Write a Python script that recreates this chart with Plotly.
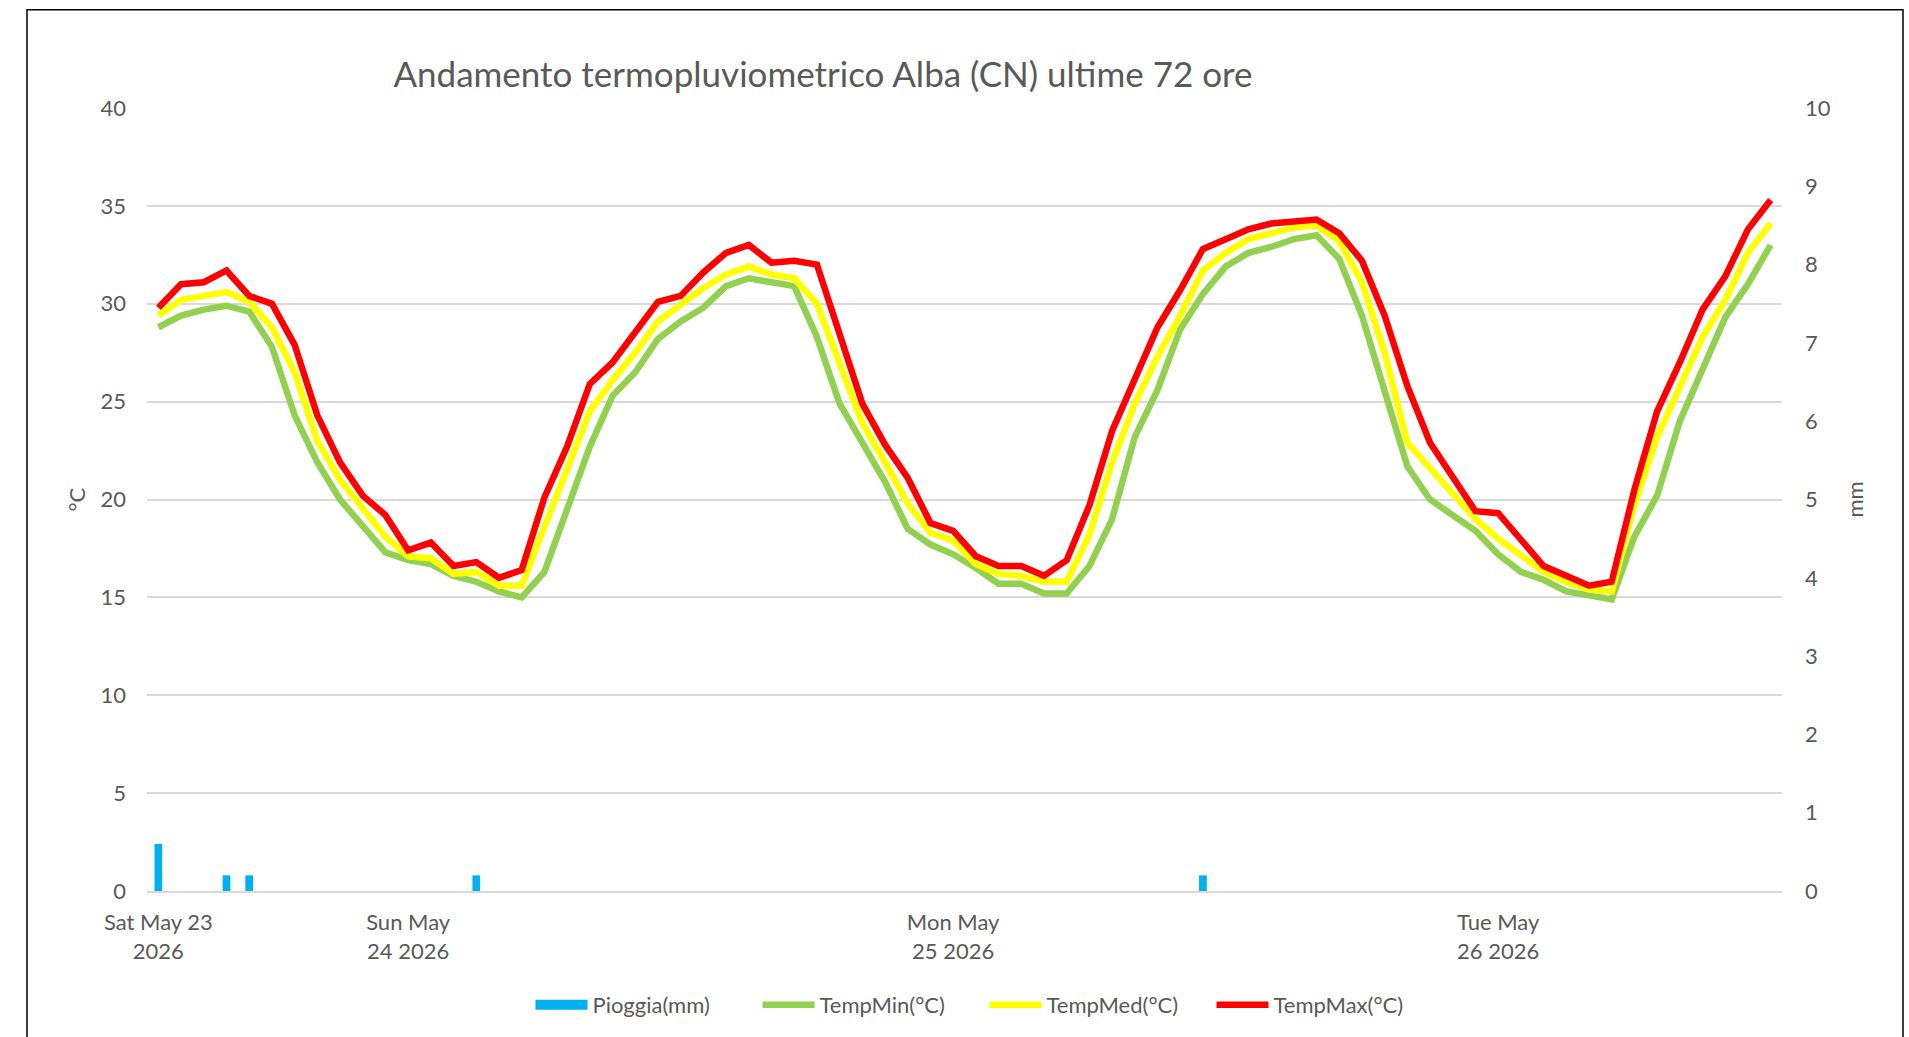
import plotly.graph_objects as go
import pandas as pd

# ---- data ----
hours = pd.date_range("2026-05-23 13:00", periods=72, freq="h").strftime("%Y-%m-%d %H:%M").tolist()

rain_mm = [0.6, 0, 0, 0.2, 0.2, 0, 0, 0, 0, 0, 0, 0,
           0, 0, 0.2, 0, 0, 0, 0, 0, 0, 0, 0, 0,
           0, 0, 0, 0, 0, 0, 0, 0, 0, 0, 0, 0,
           0, 0, 0, 0, 0, 0, 0, 0, 0, 0, 0.2, 0,
           0, 0, 0, 0, 0, 0, 0, 0, 0, 0, 0, 0,
           0, 0, 0, 0, 0, 0, 0, 0, 0, 0, 0, 0]

temp_min = [28.8, 29.4, 29.7, 29.9, 29.6, 27.8, 24.3, 21.9, 20.0, 18.6, 17.3, 16.9,
            16.7, 16.1, 15.8, 15.3, 15.0, 16.3, 19.5, 22.7, 25.3, 26.5, 28.2, 29.1,
            29.8, 30.9, 31.3, 31.1, 30.9, 28.3, 24.9, 22.9, 20.9, 18.5, 17.7, 17.2,
            16.5, 15.7, 15.7, 15.2, 15.2, 16.6, 19.0, 23.2, 25.6, 28.7, 30.5, 31.9,
            32.6, 32.9, 33.3, 33.5, 32.3, 29.4, 25.6, 21.7, 20.0, 19.2, 18.4, 17.2,
            16.3, 15.9, 15.3, 15.1, 14.9, 18.1, 20.2, 24.0, 26.6, 29.3, 31.0, 33.0]

temp_med = [29.4, 30.2, 30.4, 30.6, 30.1, 28.8, 26.5, 23.0, 21.0, 19.5, 18.1, 17.1,
            17.0, 16.2, 16.3, 15.6, 15.6, 18.6, 21.5, 24.5, 26.1, 27.5, 29.1, 30.0,
            30.8, 31.5, 31.9, 31.5, 31.3, 30.0, 27.0, 23.9, 21.9, 19.8, 18.3, 17.9,
            16.7, 16.2, 16.1, 15.8, 15.8, 18.2, 21.9, 24.9, 27.3, 29.4, 31.7, 32.6,
            33.3, 33.6, 33.9, 34.0, 33.2, 31.1, 27.5, 22.9, 21.6, 20.3, 19.0, 18.0,
            17.2, 16.3, 15.8, 15.4, 15.3, 19.7, 23.2, 25.8, 28.3, 30.2, 32.6, 34.1]

temp_max = [29.8, 31.0, 31.1, 31.7, 30.4, 30.0, 27.9, 24.3, 21.9, 20.2, 19.2, 17.4,
            17.8, 16.6, 16.8, 16.0, 16.4, 20.1, 22.7, 25.9, 27.0, 28.5, 30.1, 30.4,
            31.6, 32.6, 33.0, 32.1, 32.2, 32.0, 28.5, 24.9, 22.8, 21.1, 18.8, 18.4,
            17.1, 16.6, 16.6, 16.1, 16.9, 19.7, 23.5, 26.2, 28.8, 30.7, 32.8, 33.3,
            33.8, 34.1, 34.2, 34.3, 33.6, 32.2, 29.4, 25.8, 22.9, 21.2, 19.4, 19.3,
            18.0, 16.6, 16.1, 15.6, 15.8, 20.5, 24.5, 27.0, 29.7, 31.4, 33.8, 35.3]

tick_index = [0, 11, 35, 59]
tick_labels = ["Sat May 23<br>2026", "Sun May<br>24 2026", "Mon May<br>25 2026", "Tue May<br>26 2026"]

# ---- style ----
FONT = "Lato, 'Open Sans', sans-serif"
TXT = "#595959"
GRID = "#D9D9D9"
BLUE = "#00B0F0"
GREEN = "#92D050"
YELLOW = "#FFFF00"
RED = "#FF0000"

fig = go.Figure()

fig.add_trace(go.Bar(x=hours, y=rain_mm, name="Pioggia(mm)", yaxis="y2",
                     marker=dict(color=BLUE, line=dict(width=0)), width=0.34,
                     showlegend=False))
# legend entry for the rain bars (wide rectangle like the original)
fig.add_trace(go.Scatter(x=[None], y=[None], mode="lines", name="Pioggia(mm)",
                         line=dict(color=BLUE, width=13)))
fig.add_trace(go.Scatter(x=hours, y=temp_min, mode="lines", name="TempMin(°C)",
                         line=dict(color=GREEN, width=6.5)))
fig.add_trace(go.Scatter(x=hours, y=temp_med, mode="lines", name="TempMed(°C)",
                         line=dict(color=YELLOW, width=6.5)))
fig.add_trace(go.Scatter(x=hours, y=temp_max, mode="lines", name="TempMax(°C)",
                         line=dict(color=RED, width=6.5)))

L, R, T, B = 147, 127, 108, 145
W, H = 1909, 1037
pw = W - L - R
ph = H - T - B

def px_x(px):
    return (px - L) / pw

def px_y(py):
    return (H - B - py) / ph

fig.update_layout(
    width=W, height=H, autosize=False,
    margin=dict(l=L, r=R, t=T, b=B, pad=0),
    paper_bgcolor="white", plot_bgcolor="white",
    font=dict(family=FONT, color=TXT, size=22),
    title=dict(text="Andamento termopluviometrico Alba (CN) ultime 72 ore",
               x=823 / W, xref="container", xanchor="center",
               y=1 - 75 / H, yref="container", yanchor="middle",
               font=dict(family=FONT, size=35, color=TXT)),
    xaxis=dict(type="category", range=[-0.5, 71.5],
               tickmode="array", tickvals=[hours[i] for i in tick_index], ticktext=tick_labels,
               showgrid=False, showline=True, linecolor=GRID, linewidth=1.5,
               ticks="", tickfont=dict(size=22, color=TXT), ticklabelstandoff=11),
    yaxis=dict(range=[0, 40], dtick=5, showgrid=True, gridcolor=GRID, gridwidth=1.5,
               zeroline=False, showline=False, ticks="", tickfont=dict(size=22, color=TXT),
               ticklabelstandoff=20),
    yaxis2=dict(range=[0, 10], dtick=1, overlaying="y", side="right", showgrid=False,
                zeroline=False, showline=False, ticks="", tickfont=dict(size=22, color=TXT),
                ticklabelstandoff=22),
    legend=dict(orientation="h", x=0.5 + 20 / pw, xanchor="center", y=px_y(1005), yanchor="middle",
                font=dict(size=22, color=TXT), itemwidth=52, bgcolor="rgba(0,0,0,0)",
                traceorder="normal", entrywidth=160, entrywidthmode="pixels"),
    showlegend=True,
    annotations=[
        dict(text="°C", xref="paper", yref="paper", x=px_x(76), y=0.5, showarrow=False,
             textangle=-90, font=dict(size=22, color=TXT), xanchor="center", yanchor="middle"),
        dict(text="mm", xref="paper", yref="paper", x=px_x(1854), y=0.5, showarrow=False,
             textangle=-90, font=dict(size=22, color=TXT), xanchor="center", yanchor="middle"),
    ],
    shapes=[
        dict(type="rect", xref="paper", yref="paper",
             x0=px_x(27), x1=px_x(1903), y0=px_y(1060), y1=px_y(9.5),
             line=dict(color="black", width=1.5), fillcolor="rgba(0,0,0,0)", layer="below"),
    ],
)

fig.write_html("out.html", config={"displayModeBar": False},
               post_script="document.body.style.margin='0';document.body.style.overflow='hidden';")
